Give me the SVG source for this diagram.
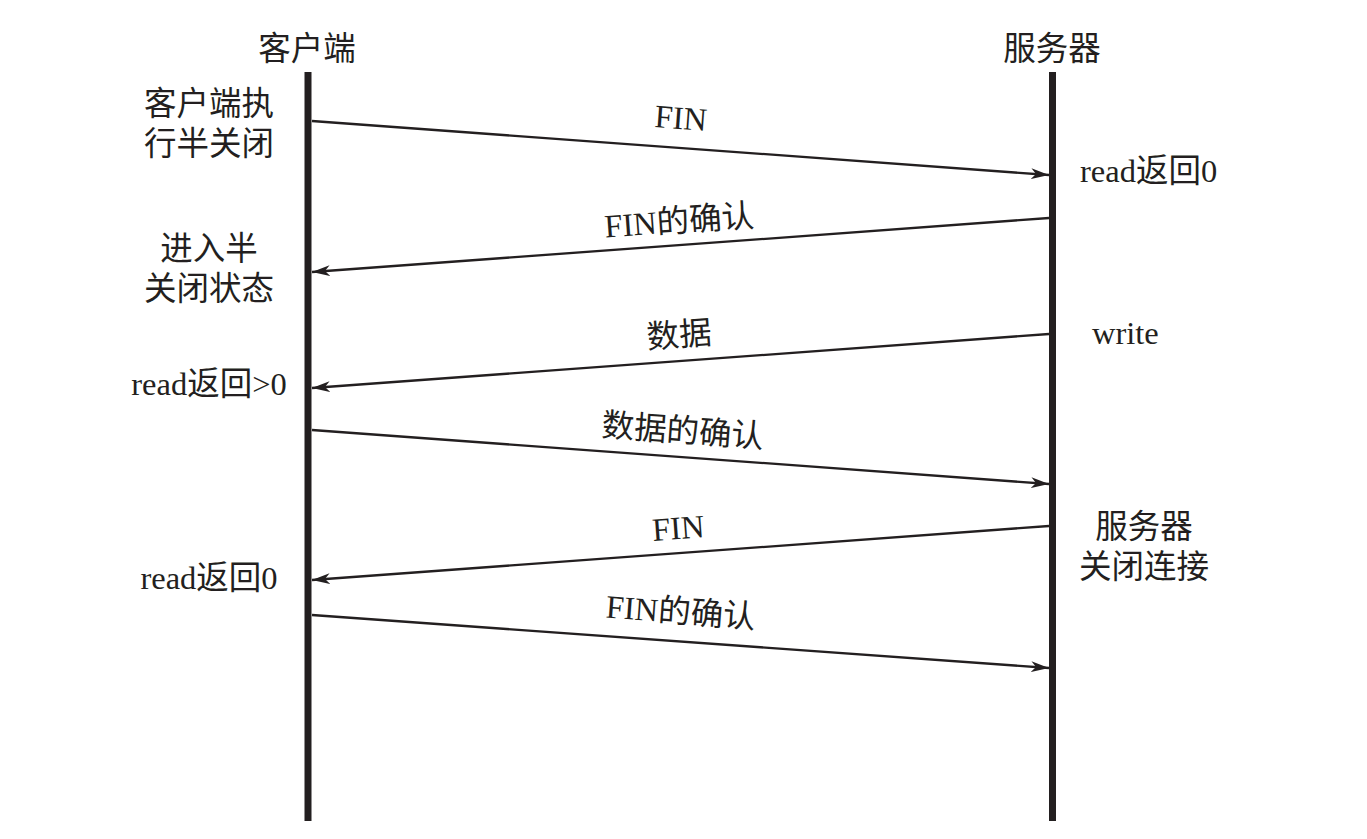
<svg xmlns="http://www.w3.org/2000/svg" width="1367" height="839" viewBox="0 0 1367 839">
<style>
  text { font-family: "Liberation Serif", "Noto Sans CJK SC", serif; font-size: 32.5px; fill: #231f20; }
  .c { text-anchor: middle; }
  .life { stroke: #231f20; stroke-width: 7; fill: none; }
  .msg { stroke: #231f20; stroke-width: 2.3; fill: none; marker-end: url(#ah); }
</style>
<defs>
  <marker id="ah" markerUnits="userSpaceOnUse" markerWidth="19" markerHeight="12" refX="18" refY="5.5" orient="auto" viewBox="0 0 19 11">
    <path d="M0,0 L18,5.5 L0,11 L5,5.5 Z" fill="#231f20"/>
  </marker>
</defs>
<rect width="1367" height="839" fill="#ffffff"/>

<g id="client">
  <text class="c" x="307" y="60">客户端</text>
  <line class="life" x1="308" y1="72" x2="308" y2="821"/>
</g>
<g id="server">
  <text class="c" x="1052" y="60">服务器</text>
  <line class="life" x1="1052.5" y1="72" x2="1052.5" y2="821"/>
</g>

<g id="client-notes">
  <text class="c" x="209" y="115">客户端执</text>
  <text class="c" x="209" y="155">行半关闭</text>
  <text class="c" x="209" y="260">进入半</text>
  <text class="c" x="209" y="300">关闭状态</text>
  <text class="c" x="209" y="395">read返回&gt;0</text>
  <text class="c" x="209" y="589">read返回0</text>
</g>
<g id="server-notes">
  <text x="1080" y="182">read返回0</text>
  <text x="1092" y="344">write</text>
  <text class="c" x="1144" y="538">服务器</text>
  <text class="c" x="1144" y="578">关闭连接</text>
</g>

<g id="connectors">
  <line class="msg" x1="312" y1="121" x2="1049" y2="175"/>
  <line class="msg" x1="1049" y1="218" x2="312" y2="272"/>
  <line class="msg" x1="1049" y1="334" x2="312" y2="388"/>
  <line class="msg" x1="312" y1="430" x2="1049" y2="484"/>
  <line class="msg" x1="1049" y1="526" x2="312" y2="580"/>
  <line class="msg" x1="312" y1="615" x2="1049" y2="668"/>
</g>

<g id="labels">
  <text class="c" transform="translate(680,129) rotate(4.2)">FIN</text>
  <text class="c" transform="translate(680,232) rotate(-4.2)">FIN的确认</text>
  <text class="c" transform="translate(680,346) rotate(-4.2)">数据</text>
  <text class="c" transform="translate(682,442) rotate(4.2)">数据的确认</text>
  <text class="c" transform="translate(679,539) rotate(-4.2)">FIN</text>
  <text class="c" transform="translate(680,623) rotate(4.2)">FIN的确认</text>
</g>
</svg>
